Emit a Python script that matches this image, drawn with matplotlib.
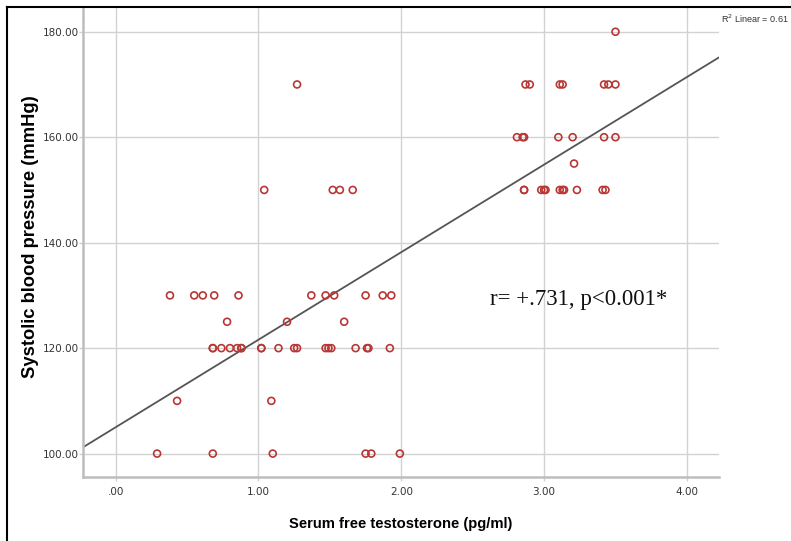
import numpy as np
import matplotlib.pyplot as plt
from matplotlib.lines import Line2D

# free testosterone (pg/ml) and systolic BP (mmHg)
testo = [
    # 100 mmHg
    0.29, 0.68, 1.10, 1.75, 1.79, 1.99,
    # 110
    0.43, 1.09,
    # 120
    0.68, 0.68, 0.74, 0.80, 0.85, 0.88, 0.88, 1.02, 1.02, 1.14, 1.25, 1.27,
    1.47, 1.49, 1.51, 1.68, 1.76, 1.77, 1.92,
    # 125
    0.78, 1.20, 1.60,
    # 130
    0.38, 0.55, 0.61, 0.69, 0.86, 1.37, 1.47, 1.53, 1.75, 1.87, 1.93,
    # 150
    1.04, 1.52, 1.57, 1.66, 2.86, 2.86, 2.98, 3.00, 3.01, 3.11, 3.13, 3.14,
    3.23, 3.41, 3.43,
    # 155
    3.21,
    # 160
    2.81, 2.85, 2.86, 3.10, 3.20, 3.42, 3.50,
    # 170
    1.27, 2.87, 2.90, 3.11, 3.13, 3.42, 3.45, 3.50,
    # 180
    3.50,
]
sbp = ([100] * 6 + [110] * 2 + [120] * 19 + [125] * 3 + [130] * 11
       + [150] * 15 + [155] + [160] * 7 + [170] * 8 + [180])

# fit line as reported (R2 linear = 0.61)
fit_intercept = 105.0
fit_slope = 16.6

fig = plt.figure(figsize=(7.91, 5.41), dpi=100)
ax = fig.add_axes([0.1053, 0.1177, 0.8033, 0.8675])

xlim = (-0.227, 4.223)
ylim = (95.5, 184.5)

ax.scatter(testo, sbp, s=25, facecolors='none', edgecolors='#b83633',
           linewidths=1.2, zorder=3)

xx = np.array(xlim)
ax.plot(xx, fit_intercept + fit_slope * xx, color='#555555', lw=1.3, zorder=2)

ax.set_xlim(xlim)
ax.set_ylim(ylim)
ax.set_xticks([0, 1, 2, 3, 4])
ax.set_xticklabels(['.00', '1.00', '2.00', '3.00', '4.00'])
ax.set_yticks([100, 120, 140, 160, 180])
ax.set_yticklabels(['100.00', '120.00', '140.00', '160.00', '180.00'])
ax.grid(True, color='#d2d2d2', lw=1.0, zorder=0)
ax.set_axisbelow(True)
ax.tick_params(axis='both', labelsize=7.5, length=3, color='#d2d2d2',
               labelcolor='#333333', width=1)
ax.tick_params(axis='x', pad=4)
ax.tick_params(axis='y', pad=0)

for s in ['top', 'right']:
    ax.spines[s].set_visible(False)
for s in ['left', 'bottom']:
    ax.spines[s].set_color('#bdbdbd')
    ax.spines[s].set_linewidth(1.8)

ax.set_xlabel('Serum free testosterone (pg/ml)', fontsize=10.6,
              fontweight='bold', family='Liberation Sans')
ax.set_ylabel('Systolic blood pressure (mmHg)', fontsize=13.2,
              fontweight='bold', family='Liberation Sans')
ax.xaxis.set_label_coords(0.5, -0.085)
ax.yaxis.set_label_coords(-0.07, 0.513)
for lab in ax.get_xticklabels() + ax.get_yticklabels():
    lab.set_family('Liberation Sans Narrow')

ax.text(2.62, 129.2, 'r= +.731, p<0.001*', fontsize=16.5,
        family='Liberation Serif', ha='left', va='center', color='#111111')

fig.text(0.911, 0.966, r'R$^2$ Linear = 0.61', fontsize=6.5,
         family='Liberation Sans', color='#333333', ha='left', va='center')

# image border (left and top)
fig.add_artist(Line2D([0.0085, 0.0085], [0, 0.987], color='black', lw=1.5,
                      transform=fig.transFigure))
fig.add_artist(Line2D([0.0085, 1], [0.987, 0.987], color='black', lw=1.5,
                      transform=fig.transFigure))

fig.savefig('out.png', dpi=100)
